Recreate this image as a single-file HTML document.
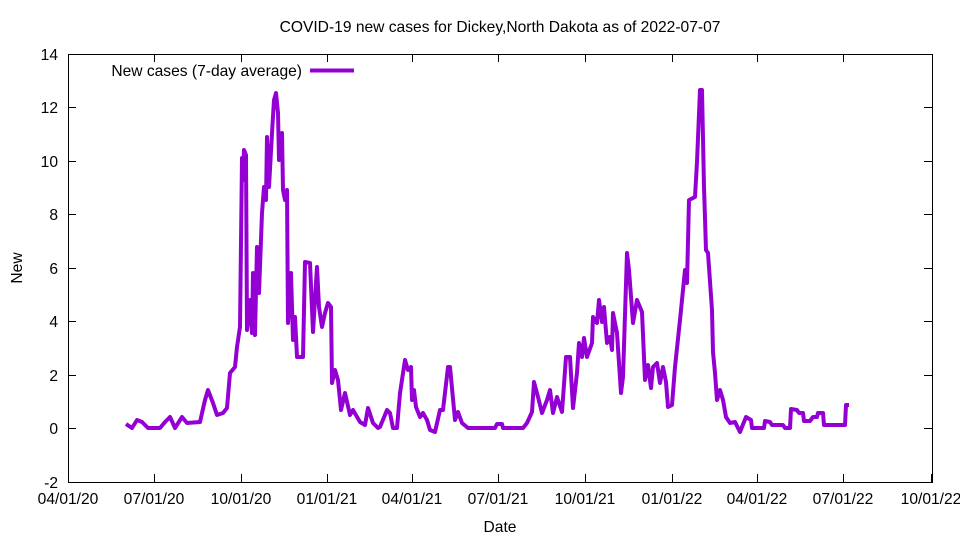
<!DOCTYPE html>
<html><head><meta charset="utf-8"><style>body{margin:0;background:#fff}svg{display:block}text{font-family:"Liberation Sans",sans-serif;font-size:15.6px;fill:#000}</style></head><body>
<svg width="960" height="540" viewBox="0 0 960 540">
<rect x="68.5" y="54.5" width="864" height="428" fill="none" stroke="#000" stroke-width="1"/>
<g stroke="#000" stroke-width="1">
<path d="M68 482.5h8M68 428.5h8M68 375.5h8M68 321.5h8M68 268.5h8M68 214.5h8M68 161.5h8M68 107.5h8M68 54.5h8M932 482.5h-8M932 428.5h-8M932 375.5h-8M932 321.5h-8M932 268.5h-8M932 214.5h-8M932 161.5h-8M932 107.5h-8M932 54.5h-8"/>
<path d="M68.5 482v-8M154.5 482v-8M241.5 482v-8M327.5 482v-8M412.5 482v-8M498.5 482v-8M585.5 482v-8M672.5 482v-8M757.5 482v-8M843.5 482v-8M931.5 482v-8M154.5 54v8M241.5 54v8M327.5 54v8M412.5 54v8M498.5 54v8M585.5 54v8M672.5 54v8M757.5 54v8M843.5 54v8"/>
</g>
<g text-anchor="end">
<text x="58" y="488">-2</text><text x="58" y="434">0</text><text x="58" y="381">2</text><text x="58" y="327">4</text><text x="58" y="274">6</text><text x="58" y="220">8</text><text x="58" y="167">10</text><text x="58" y="113">12</text><text x="58" y="60">14</text>
</g>
<g text-anchor="middle">
<text x="68" y="504">04/01/20</text><text x="154" y="504">07/01/20</text><text x="241" y="504">10/01/20</text><text x="327" y="504">01/01/21</text><text x="412" y="504">04/01/21</text><text x="498" y="504">07/01/21</text><text x="585" y="504">10/01/21</text><text x="672" y="504">01/01/22</text><text x="757" y="504">04/01/22</text><text x="843" y="504">07/01/22</text><text x="931" y="504">10/01/22</text>
<text x="500" y="32">COVID-19 new cases for Dickey,North Dakota as of 2022-07-07</text>
<text x="500" y="532">Date</text>
<text x="0" y="0" transform="translate(22,268) rotate(-90)">New</text>
</g>
<text x="302" y="76" text-anchor="end">New cases (7-day average)</text>
<path d="M310 70.5h44" stroke="#9400d3" stroke-width="4"/>
<polyline fill="none" stroke="#9400d3" stroke-width="4" stroke-linejoin="round" points="126,424 132,428 137,420 142,422 148,428 160,428 165,422 170,417 175,428 182,417 187,423 200,422 205,400 208,390 213,403 217,415 223,413 227,408 230,373 235,367 237,347 240,327 242,158 243,180 244,150 246,155 247,330 250,300 252,333 253,273 255,335 257,247 259,293 262,213 264,187 266,200 267,137 269,187 272,133 274,100 276,93 278,113 279,160 282,133 283,190 285,200 287,190 288,323 291,273 293,340 295,317 297,357 303,357 305,262 310,263 313,332 317,267 319,307 322,327 325,313 328,303 331,307 332,383 335,370 338,380 341,410 345,393 350,415 353,410 360,422 365,425 368,408 373,423 378,428 380,427 387,410 390,413 393,428 397,428 400,393 405,360 408,370 411,367 412,400 414,390 416,407 420,417 423,413 427,420 430,430 435,432 440,410 443,410 448,367 450,367 455,420 458,412 462,423 468,428 495,428 497,424 502,424 503,428 523,428 527,423 532,412 534,382 538,397 542,413 547,400 550,390 553,413 557,397 562,412 566,357 570,357 573,408 577,373 579,343 582,357 584,338 587,357 592,343 593,317 597,323 599,300 602,322 604,307 607,343 610,337 612,350 613,313 617,333 621,393 623,377 627,253 629,270 633,323 637,300 642,312 645,380 648,365 651,388 653,367 657,363 660,383 663,367 666,382 668,407 672,405 675,367 680,320 685,270 687,283 689,200 695,197 697,162 700,90 702,90 704,187 706,250 708,253 712,310 713,352 715,373 717,400 720,390 723,400 726,417 730,423 735,422 740,432 746,417 751,420 752,428 764,428 765,421 770,422 772,425 783,425 785,428 790,428 791,409 797,410 799,413 803,413 804,421 810,421 813,417 817,417 818,413 823,413 824,425 845,425 846,405 849,405"/>
</svg>
</body></html>
